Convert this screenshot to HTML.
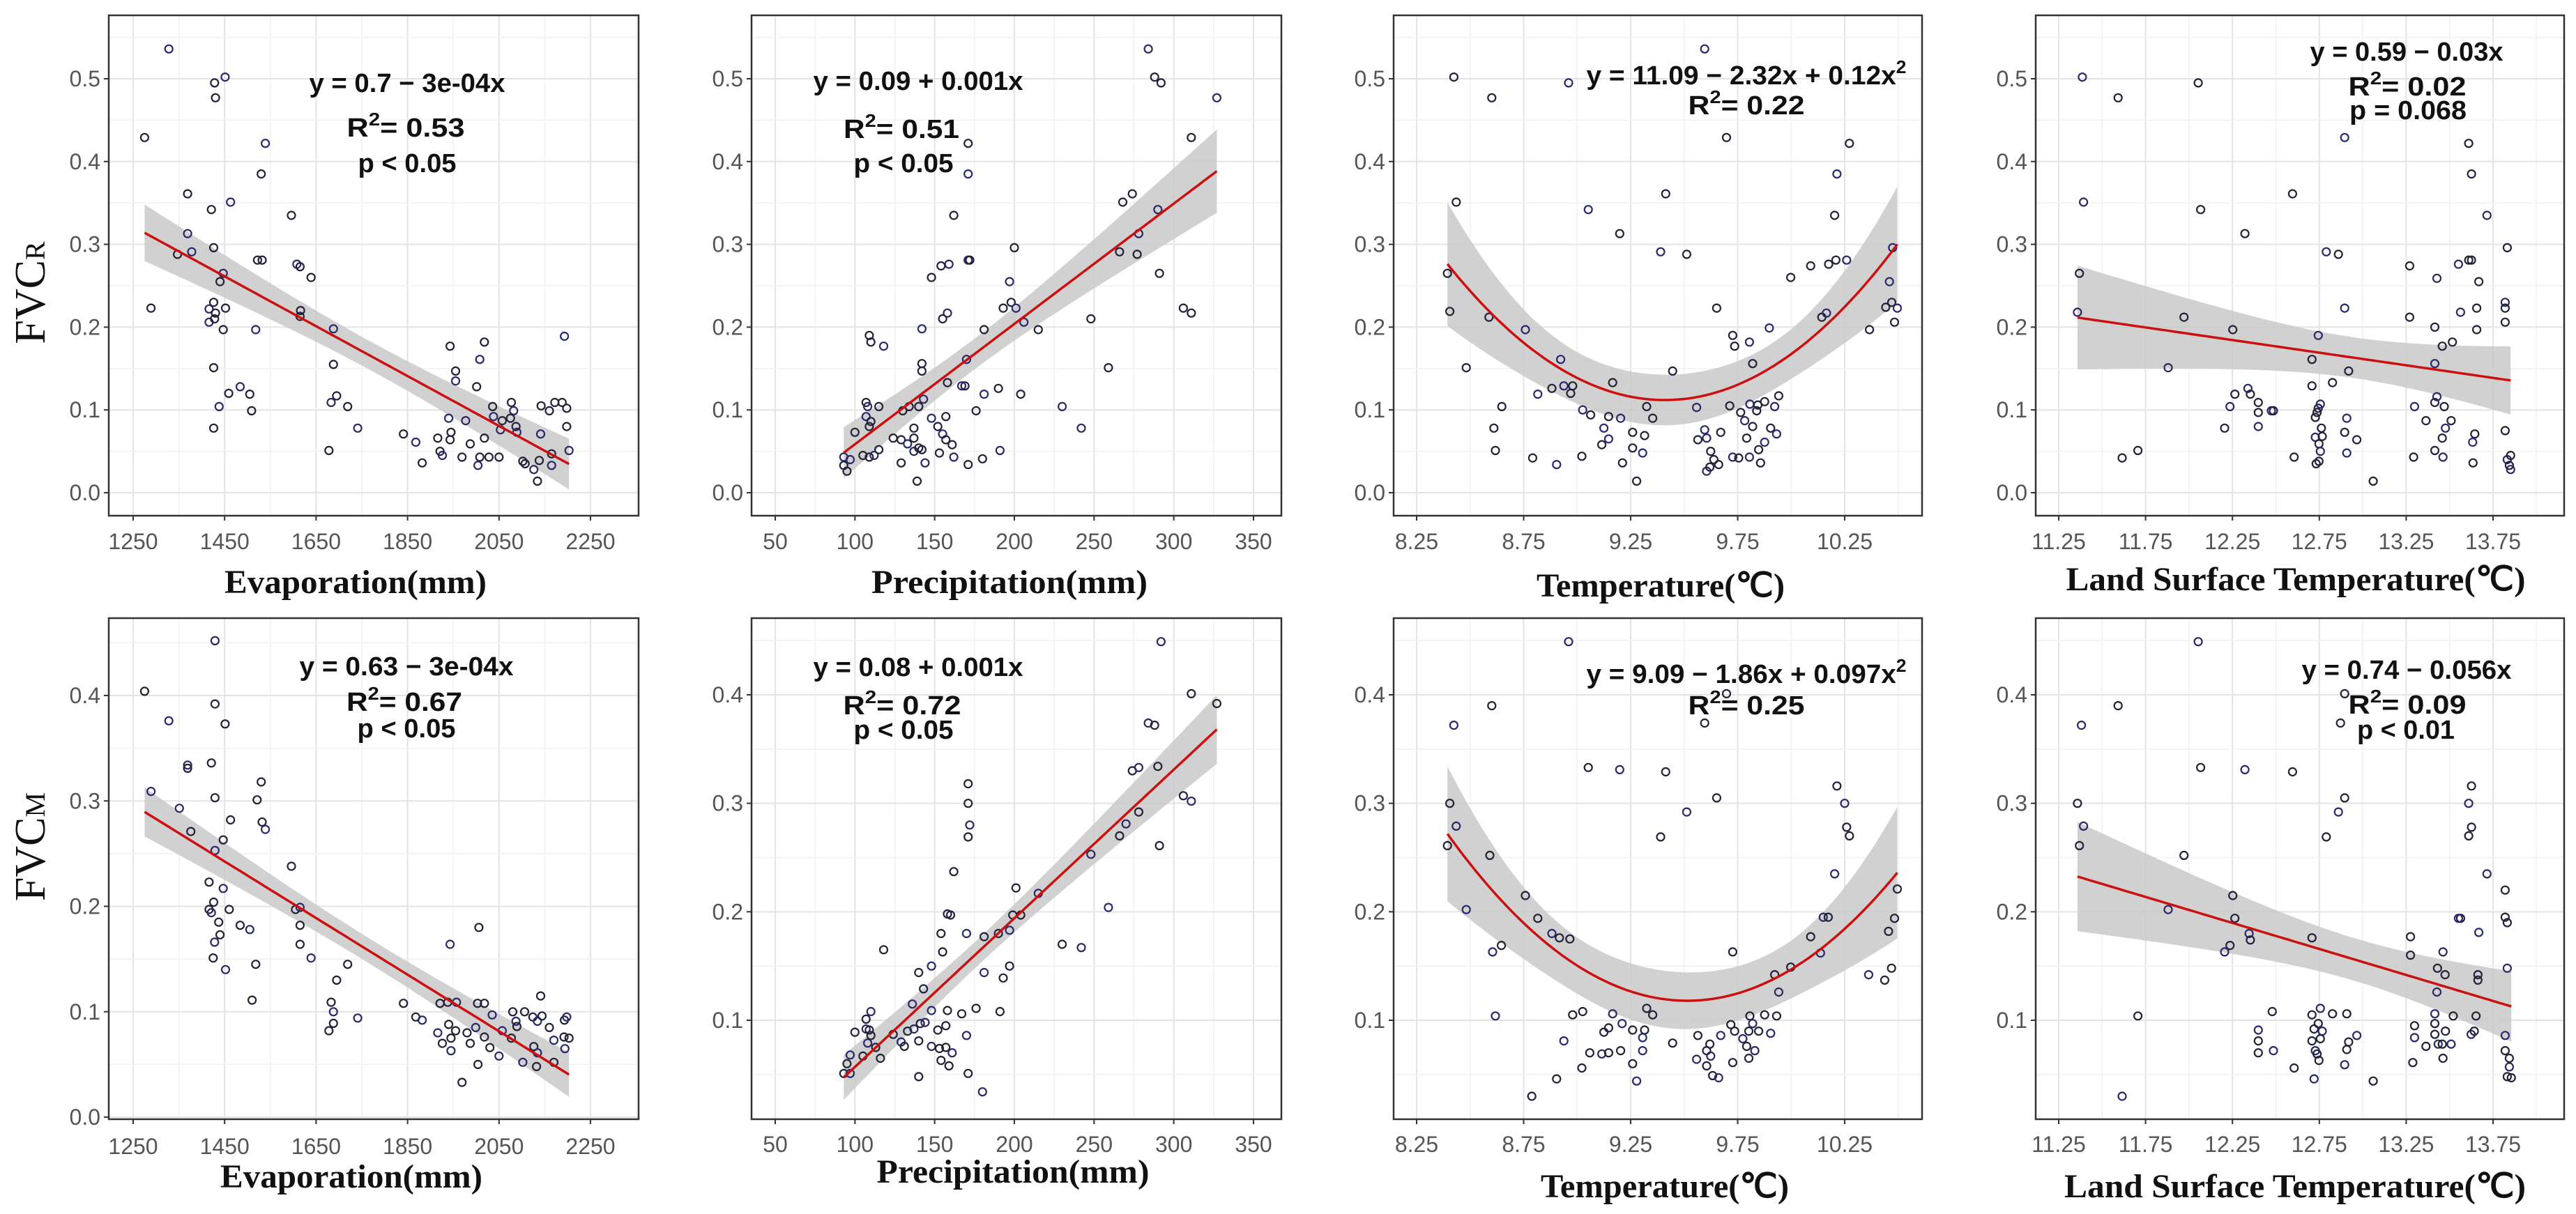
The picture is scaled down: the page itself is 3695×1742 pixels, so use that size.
<!DOCTYPE html>
<html><head><meta charset="utf-8">
<style>
html,body{margin:0;padding:0;background:#fff;}
svg{display:block;}
</style></head>
<body>
<svg id="fig" width="3695" height="1742" viewBox="0 0 3695 1742" xmlns="http://www.w3.org/2000/svg"></svg>
<script>
// ===== DATA =====
const evapTopX=[1328,1275,1289,1451,1428,1430,1539,1530,1369,1463,1421,1596,1369,1426,1347,1378,1522,1532,1608,1615,1639,1447,1440,1426,1416,1430,1452,1416,1428,1447,1518,1616,1615,1688,1688,1426,1484,1459,1505,1438,1509,1426,1683,1695,1719,1741,1678,1841,1868,1882,1916,1940,1943,1955,1955,1945,1921,1926,1943,1969,1977,1987,2001,2008,2018,2018,2004,2008,2036,2038,2028,2050,2053,2057,2077,2082,2075,2087,2089,2102,2107,2126,2134,2138,2141,2142,2160,2165,2172,2188,2193,2198,2198,2203,2165];
const evapTopY=[0.536,0.429,0.223,0.502,0.495,0.477,0.422,0.385,0.361,0.351,0.342,0.335,0.313,0.296,0.288,0.291,0.281,0.281,0.276,0.273,0.26,0.265,0.255,0.230,0.222,0.217,0.223,0.206,0.210,0.197,0.197,0.22,0.213,0.198,0.155,0.151,0.128,0.12,0.119,0.104,0.099,0.078,0.109,0.117,0.104,0.078,0.051,0.071,0.061,0.036,0.066,0.09,0.177,0.147,0.135,0.073,0.05,0.045,0.064,0.043,0.087,0.059,0.128,0.161,0.182,0.066,0.033,0.043,0.104,0.092,0.043,0.043,0.076,0.087,0.109,0.099,0.09,0.080,0.073,0.038,0.035,0.028,0.014,0.039,0.071,0.105,0.099,0.033,0.109,0.109,0.189,0.102,0.08,0.051,0.047];

const precTopX=[284,288,292,327,311,171,171,268,274,290,162,200,278,266,277,171,172,154,159,291,148,197,198,193,201,306,311,158,155,248,142,181,215,206,109,110,118,142,142,170,259,158,167,169,190,181,204,107,108,115,140,143,130,176,230,134,100,107,110,109,148,157,137,242,124,129,133,137,152,155,157,161,93,93,95,97,105,109,112,115,129,137,140,142,144,139,153,162,171,180,191];
const precTopY=[0.536,0.502,0.495,0.477,0.429,0.422,0.385,0.351,0.361,0.342,0.335,0.296,0.313,0.291,0.288,0.281,0.281,0.274,0.276,0.265,0.26,0.255,0.23,0.223,0.223,0.223,0.217,0.217,0.21,0.21,0.198,0.197,0.197,0.206,0.19,0.182,0.177,0.156,0.147,0.161,0.151,0.133,0.129,0.129,0.126,0.119,0.119,0.109,0.104,0.104,0.104,0.113,0.099,0.099,0.104,0.104,0.073,0.092,0.086,0.08,0.09,0.092,0.078,0.078,0.066,0.064,0.059,0.066,0.08,0.071,0.064,0.058,0.043,0.033,0.026,0.04,0.045,0.043,0.045,0.052,0.036,0.05,0.054,0.052,0.036,0.014,0.048,0.043,0.034,0.041,0.051];

const tempTopX=[9.596,8.424,8.601,8.960,9.698,10.272,10.214,8.435,9.414,9.052,10.203,9.199,9.39,9.512,10.209,10.259,10.175,10.091,10.474,9.998,8.394,10.459,8.405,8.588,8.758,9.652,10.143,10.165,10.442,10.47,10.496,10.483,10.366,9.898,9.727,9.736,9.805,9.82,8.482,8.923,9.446,9.166,8.938,8.979,8.882,8.816,8.97,8.648,9.026,9.063,9.147,9.203,9.325,9.353,9.558,9.713,9.764,9.807,9.844,9.876,9.923,9.942,9.839,9.783,9.82,8.611,9.125,9.259,9.315,9.596,9.671,9.904,9.932,8.618,8.792,8.904,9.022,9.115,9.147,9.212,9.259,9.306,9.278,9.564,9.605,9.624,9.639,9.605,9.62,9.661,9.727,9.755,9.792,9.805,9.848,9.857,9.876];
const tempTopY=[0.536,0.502,0.477,0.495,0.429,0.422,0.385,0.351,0.361,0.342,0.335,0.313,0.291,0.288,0.281,0.281,0.276,0.274,0.296,0.26,0.265,0.255,0.219,0.212,0.197,0.223,0.212,0.217,0.224,0.23,0.223,0.206,0.197,0.199,0.19,0.177,0.182,0.156,0.151,0.161,0.147,0.133,0.129,0.129,0.126,0.119,0.12,0.104,0.1,0.094,0.092,0.09,0.104,0.09,0.103,0.105,0.097,0.107,0.106,0.11,0.104,0.117,0.099,0.087,0.08,0.078,0.078,0.073,0.069,0.076,0.073,0.078,0.071,0.051,0.042,0.034,0.044,0.058,0.065,0.036,0.054,0.048,0.014,0.064,0.066,0.05,0.04,0.026,0.031,0.034,0.043,0.042,0.066,0.043,0.052,0.036,0.061];

const lstTopX=[11.386,11.592,12.053,12.896,13.61,13.626,11.393,12.596,12.067,13.715,12.322,13.832,12.79,12.86,13.27,13.551,13.61,13.626,13.427,13.668,11.369,11.358,11.971,12.252,12.896,13.27,13.415,13.563,13.656,13.656,13.82,13.82,13.82,12.744,13.458,13.516,11.88,12.708,12.919,13.415,12.826,12.708,12.339,12.353,12.264,12.236,12.399,12.399,12.474,12.486,12.205,12.399,12.727,12.744,12.756,12.737,12.762,12.727,12.767,12.748,12.756,12.732,12.748,12.908,12.896,12.966,12.908,12.605,13.06,13.298,13.364,13.415,13.427,13.469,13.509,13.476,13.458,13.415,13.462,13.293,13.645,13.633,13.635,13.82,13.832,13.851,13.844,13.851,11.615,11.706];
const lstTopY=[0.502,0.477,0.495,0.429,0.422,0.385,0.351,0.361,0.342,0.335,0.313,0.296,0.291,0.288,0.274,0.276,0.281,0.281,0.259,0.255,0.265,0.218,0.212,0.197,0.223,0.212,0.2,0.218,0.223,0.197,0.23,0.223,0.206,0.19,0.177,0.182,0.151,0.161,0.147,0.156,0.133,0.129,0.126,0.119,0.119,0.104,0.109,0.097,0.099,0.099,0.078,0.08,0.091,0.102,0.107,0.097,0.078,0.067,0.068,0.059,0.05,0.035,0.038,0.09,0.073,0.064,0.048,0.043,0.014,0.104,0.087,0.109,0.116,0.104,0.087,0.078,0.066,0.051,0.043,0.043,0.071,0.061,0.036,0.075,0.04,0.045,0.033,0.028,0.042,0.051];

const evapBotX=[1429,1275,1429,1328,1451,1421,1369,1369,1530,1289,1429,1521,1351,1463,1532,1539,1376,1447,1429,1596,1416,1447,1416,1426,1421,1460,1605,1615,1437,1484,1505,1615,1440,1428,1615,1425,1639,1518,1719,1452,1695,1510,1943,2006,1683,1688,1688,1678,1741,1841,1868,1882,1921,1938,1957,2003,2018,2035,1940,1955,1916,1926,1945,1945,1980,1987,1999,2018,2030,2050,2004,1969,2057,2077,2080,2087,2089,2106,2102,2124,2126,2134,2141,2144,2134,2132,2160,2170,2170,2193,2198,2192,2203,2194];
const evapBotY=[0.452,0.404,0.392,0.376,0.373,0.336,0.334,0.331,0.318,0.309,0.303,0.301,0.293,0.282,0.28,0.273,0.271,0.263,0.253,0.238,0.223,0.217,0.197,0.204,0.194,0.197,0.197,0.199,0.185,0.182,0.178,0.182,0.173,0.166,0.164,0.151,0.151,0.145,0.145,0.14,0.13,0.111,0.164,0.18,0.109,0.1,0.089,0.082,0.094,0.108,0.095,0.092,0.108,0.109,0.109,0.108,0.108,0.097,0.088,0.082,0.08,0.07,0.075,0.063,0.08,0.07,0.085,0.076,0.066,0.058,0.05,0.033,0.082,0.075,0.1,0.091,0.086,0.1,0.052,0.095,0.067,0.091,0.115,0.096,0.061,0.048,0.085,0.073,0.052,0.092,0.095,0.076,0.075,0.065];

const precBotX=[292,311,327,284,288,274,278,290,306,311,171,171,172,171,278,270,266,291,248,162,201,215,158,160,259,199,204,197,190,154,170,181,230,242,155,118,148,197,140,181,193,143,136,176,158,148,167,191,110,107,100,107,109,110,108,113,116,97,95,93,97,105,124,129,131,133,137,140,141,144,152,157,148,153,157,161,154,159,170,171,140,180];
const precBotY=[0.449,0.401,0.392,0.374,0.372,0.33,0.333,0.334,0.307,0.302,0.318,0.3,0.28,0.269,0.292,0.281,0.27,0.261,0.253,0.237,0.222,0.217,0.198,0.197,0.204,0.197,0.197,0.183,0.18,0.18,0.18,0.177,0.17,0.167,0.163,0.165,0.15,0.15,0.144,0.144,0.139,0.129,0.115,0.111,0.109,0.109,0.106,0.108,0.108,0.101,0.089,0.092,0.091,0.086,0.079,0.075,0.065,0.068,0.06,0.051,0.051,0.067,0.087,0.08,0.076,0.09,0.092,0.081,0.097,0.098,0.091,0.095,0.076,0.074,0.075,0.07,0.063,0.058,0.086,0.051,0.048,0.034];

const tempBotX=[8.96,9.698,8.601,8.424,9.596,9.052,9.199,9.414,9.652,9.512,9.39,10.214,10.25,10.259,10.272,10.203,10.496,8.405,8.435,8.394,8.592,8.482,8.758,8.816,8.882,8.917,8.966,8.605,8.646,9.727,10.15,10.173,10.091,10.137,9.998,9.923,9.942,10.483,10.455,10.362,10.437,10.469,8.618,8.979,9.026,9.166,9.325,9.353,9.21,9.259,9.315,9.306,9.147,9.125,8.938,9.446,9.564,9.671,9.718,9.736,9.774,9.802,9.807,9.82,9.848,9.876,9.904,9.932,9.792,9.83,9.802,9.059,9.115,9.147,9.203,9.306,9.259,9.022,9.278,8.904,8.788,9.558,9.605,9.62,9.624,9.605,9.633,9.661,9.727];
const tempBotY=[0.449,0.401,0.39,0.372,0.374,0.333,0.331,0.329,0.305,0.292,0.269,0.316,0.3,0.278,0.27,0.235,0.221,0.3,0.279,0.261,0.252,0.202,0.215,0.194,0.18,0.176,0.175,0.163,0.169,0.163,0.195,0.195,0.177,0.162,0.149,0.142,0.126,0.194,0.182,0.142,0.137,0.148,0.104,0.105,0.108,0.106,0.111,0.105,0.097,0.091,0.091,0.084,0.093,0.089,0.081,0.079,0.086,0.086,0.096,0.09,0.083,0.09,0.104,0.097,0.09,0.105,0.088,0.104,0.076,0.072,0.065,0.07,0.069,0.07,0.072,0.072,0.06,0.056,0.044,0.046,0.03,0.064,0.072,0.078,0.067,0.058,0.049,0.047,0.061];

const lstBotX=[12.053,12.896,11.592,11.381,12.872,12.067,12.322,12.596,12.896,12.86,12.79,13.626,13.61,13.626,13.61,13.715,13.82,11.358,11.393,11.369,11.971,11.88,12.252,12.264,12.346,12.353,12.236,12.205,12.708,13.563,13.551,13.82,13.832,13.668,13.275,13.275,13.462,13.43,13.474,13.832,13.663,13.663,13.427,11.706,12.479,12.399,12.399,12.399,12.486,12.605,12.708,12.756,12.744,12.72,12.767,12.708,12.756,12.727,12.737,12.748,12.72,12.826,12.908,12.966,12.919,12.908,12.896,13.06,13.298,13.298,13.288,13.364,13.415,13.415,13.415,13.434,13.476,13.458,13.509,13.462,13.521,13.624,13.642,13.652,13.82,13.82,13.844,13.844,13.832,13.855,11.615];
const lstBotY=[0.449,0.401,0.39,0.372,0.374,0.333,0.331,0.329,0.305,0.292,0.269,0.316,0.3,0.278,0.27,0.235,0.22,0.3,0.279,0.261,0.252,0.202,0.215,0.194,0.18,0.174,0.169,0.163,0.176,0.194,0.194,0.195,0.19,0.181,0.177,0.16,0.163,0.148,0.142,0.148,0.142,0.137,0.126,0.104,0.108,0.091,0.081,0.07,0.072,0.056,0.105,0.111,0.097,0.092,0.09,0.081,0.083,0.072,0.069,0.063,0.046,0.106,0.106,0.086,0.08,0.073,0.059,0.044,0.095,0.084,0.061,0.076,0.106,0.097,0.087,0.078,0.09,0.078,0.078,0.065,0.104,0.087,0.09,0.104,0.086,0.072,0.065,0.057,0.048,0.047,0.03];

// tick label arrays
const evapTicks=[1250,1450,1650,1850,2050,2250];
const precTicks=[50,100,150,200,250,300,350];
const tempTicks=[8.25,8.75,9.25,9.75,10.25];
const lstTicks=[11.25,11.75,12.25,12.75,13.25,13.75];
const tempTickLabels=["8.25","8.75","9.25","9.75","10.25"];
const lstTickLabels=["11.25","11.75","12.25","12.75","13.25","13.75"];
const yTicksTop=[0,0.1,0.2,0.3,0.4,0.5];
const yTicksBotFirst=[0,0.1,0.2,0.3,0.4];
const yTicksBot=[0.1,0.2,0.3,0.4];

// ===== LAYOUT =====
const NS="http://www.w3.org/2000/svg";
const svg=document.getElementById('fig');
function mk(tag,attrs,parent){const e=document.createElementNS(NS,tag);for(const k in attrs)e.setAttribute(k,attrs[k]);(parent||svg).appendChild(e);return e;}

const cols=[
 {f:[156,916],xd:[1250,2250],xp:[191,847],ticks:evapTicks,labels:evapTicks.map(String),step:200,title:"Evaporation(mm)"},
 {f:[1078,1838],xd:[50,350],xp:[1112,1798],ticks:precTicks,labels:precTicks.map(String),step:50,title:"Precipitation(mm)"},
 {f:[1999,2757],xd:[8.25,10.25],xp:[2032,2646],ticks:tempTicks,labels:tempTickLabels,step:0.5,title:"Temperature(\u2103)"},
 {f:[2920,3678],xd:[11.25,13.75],xp:[2953,3576],ticks:lstTicks,labels:lstTickLabels,step:0.5,title:"Land Surface Temperature(\u2103)"}
];
const panels=[
 {r:0,c:0,X:evapTopX,Y:evapTopY,deg:1,fy:[22,740],yd:[0,0.5],yp:[707,113],yt:yTicksTop,tickY:777,
  title:{cx:510,b:851,w:376},eq:[["y = 0.7 \u2212 3e-04x",584,132,281],["R|2|= 0.53",582,196,169],["p < 0.05",584,247,141]]},
 {r:0,c:1,X:precTopX,Y:precTopY,deg:1,fy:[22,740],yd:[0,0.5],yp:[707,113],yt:yTicksTop,tickY:777,
  title:{cx:1448,b:851,w:396},eq:[["y = 0.09 + 0.001x",1317,129,301],["R|2|= 0.51",1293,198,166],["p < 0.05",1296,247,143]]},
 {r:0,c:2,X:tempTopX,Y:tempTopY,deg:2,fy:[22,740],yd:[0,0.5],yp:[707,113],yt:yTicksTop,tickY:777,
  title:{cx:2382,b:856,w:356},eq:[["y = 11.09 \u2212 2.32x + 0.12x|2|",2505,121,459],["R|2|= 0.22",2505,164,167]]},
 {r:0,c:3,X:lstTopX,Y:lstTopY,deg:1,fy:[22,740],yd:[0,0.5],yp:[707,113],yt:yTicksTop,tickY:777,
  title:{cx:3293,b:847,w:659},eq:[["y = 0.59 \u2212 0.03x",3452,87,277],["R|2|= 0.02",3453,137,169],["p = 0.068",3454,171,168]]},
 {r:1,c:0,X:evapBotX,Y:evapBotY,deg:1,fy:[887,1606],yd:[0,0.4],yp:[1603,998],yt:yTicksBotFirst,tickY:1645,
  title:{cx:504,b:1704,w:376},eq:[["y = 0.63 \u2212 3e-04x",583,969,307],["R|2|= 0.67",580,1020,166],["p < 0.05",583,1058,141]]},
 {r:1,c:1,X:precBotX,Y:precBotY,deg:1,fy:[887,1606],yd:[0.1,0.4],yp:[1464,997],yt:yTicksBot,tickY:1642,
  title:{cx:1453,b:1697,w:391},eq:[["y = 0.08 + 0.001x",1317,970,301],["R|2|= 0.72",1294,1025,169],["p < 0.05",1296,1060,143]]},
 {r:1,c:2,X:tempBotX,Y:tempBotY,deg:2,fy:[887,1606],yd:[0.1,0.4],yp:[1464,997],yt:yTicksBot,tickY:1642,
  title:{cx:2388,b:1718,w:356},eq:[["y = 9.09 \u2212 1.86x + 0.097x|2|",2505,980,459],["R|2|= 0.25",2505,1025,167]]},
 {r:1,c:3,X:lstBotX,Y:lstBotY,deg:1,fy:[887,1606],yd:[0.1,0.4],yp:[1464,997],yt:yTicksBot,tickY:1642,
  title:{cx:3292,b:1718,w:662},eq:[["y = 0.74 \u2212 0.056x",3452,974,301],["R|2|= 0.09",3453,1024,169],["p < 0.01",3451,1060,140]]}
];

function fmtY(v){return v.toFixed(1);}

// fit helpers
function solve3(A){ // inverse of 3x3
  const [a,b,c]=A[0],[d,e,f]=A[1],[g,h,i]=A[2];
  const det=a*(e*i-f*h)-b*(d*i-f*g)+c*(d*h-e*g);
  return [[(e*i-f*h)/det,(c*h-b*i)/det,(b*f-c*e)/det],
          [(f*g-d*i)/det,(a*i-c*g)/det,(c*d-a*f)/det],
          [(d*h-e*g)/det,(b*g-a*h)/det,(a*e-b*d)/det]];
}
function fit(X,Y,deg){
  const n=Math.min(X.length,Y.length);
  const xm=X.slice(0,n).reduce((s,v)=>s+v,0)/n;
  const k=deg+1;
  const XtX=[[0,0,0],[0,0,0],[0,0,0]],XtY=[0,0,0];
  for(let i=0;i<n;i++){const u=X[i]-xm;const r=[1,u,u*u];
    for(let a=0;a<k;a++){XtY[a]+=r[a]*Y[i];for(let b=0;b<k;b++)XtX[a][b]+=r[a]*r[b];}}
  if(k===2){XtX[2][2]=1;}
  const M=solve3(XtX);
  const beta=[0,0,0];
  for(let a=0;a<k;a++)for(let b=0;b<k;b++)beta[a]+=M[a][b]*XtY[b];
  if(k===2)beta[2]=0;
  let ss=0;for(let i=0;i<n;i++){const u=X[i]-xm;const p=beta[0]+beta[1]*u+beta[2]*u*u;ss+=(Y[i]-p)**2;}
  const s=Math.sqrt(ss/(n-k));
  return {pred:x=>{const u=x-xm;return beta[0]+beta[1]*u+beta[2]*u*u;},
    se:x=>{const u=x-xm;const v=[1,u,k===3?u*u:0];let q=0;for(let a=0;a<3;a++)for(let b=0;b<3;b++)q+=v[a]*M[a][b]*v[b];
      if(k===2){q-=M[2][2]*0;} return s*Math.sqrt(Math.max(q,0));},
    min:Math.min(...X.slice(0,n)),max:Math.max(...X.slice(0,n))};
}

panels.forEach((p,pi)=>{
  const col=cols[p.c];
  const g=mk('g',{});
  
  
  const L=col.f[0],R=col.f[1],T=p.fy[0],B=p.fy[1];
  const sx=v=>col.xp[0]+(v-col.xd[0])*(col.xp[1]-col.xp[0])/(col.xd[1]-col.xd[0]);
  const sy=v=>p.yp[0]+(v-p.yd[0])*(p.yp[1]-p.yd[0]===0?0:(p.yp[1]-p.yp[0])/(p.yd[1]-p.yd[0]));
  const bg=mk('rect',{x:L,y:T,width:R-L,height:B-T,fill:'#fff'},g);
  
  // gridlines
  const gg=mk('g',{},g);
  const xstep=col.step;
  for(let v=col.xd[0]-xstep*2;v<=col.xd[1]+xstep*2+1e-9;v+=xstep/2){
    const x=sx(v);if(x<=L+1||x>=R-1)continue;
    const major=Math.abs(((v-col.xd[0])/xstep)-Math.round((v-col.xd[0])/xstep))<1e-6;
    mk('line',{x1:x,x2:x,y1:T,y2:B,stroke:major?'#e3e3e3':'#f1f1f1','stroke-width':major?2:1.5},gg);
  }
  const ystep=0.1;
  for(let v=-0.2;v<=0.8;v+=0.05){
    const y=sy(v);if(y<=T+1||y>=B-1)continue;
    const major=Math.abs(v*10-Math.round(v*10))<1e-6;
    mk('line',{x1:L,x2:R,y1:y,y2:y,stroke:major?'#e3e3e3':'#f1f1f1','stroke-width':major?2:1.5},gg);
  }
  // fit band + line
  const f=fit(p.X,p.Y,p.deg);
  const N=80,up=[],lo=[],ln=[];
  for(let i=0;i<=N;i++){const x=f.min+(f.max-f.min)*i/N;const yv=f.pred(x),e=1.98*f.se(x);
    up.push(sx(x).toFixed(1)+','+sy(yv+e).toFixed(1));lo.push(sx(x).toFixed(1)+','+sy(yv-e).toFixed(1));ln.push(sx(x).toFixed(1)+','+sy(yv).toFixed(1));}
  const band=mk('polygon',{points:up.concat(lo.reverse()).join(' '),fill:'#c9c9c9','fill-opacity':0.85},g);
  
  // points
  const pg=mk('g',{},g);
  const n=Math.min(p.X.length,p.Y.length);
  for(let i=0;i<n;i++){
    const c=mk('circle',{cx:sx(p.X[i]).toFixed(1),cy:sy(p.Y[i]).toFixed(1),r:5.5,fill:'none',stroke:i%3===0?'#2a2a6a':'#22223a','stroke-width':2.2},pg);
    
    
  }
  const fl=mk('polyline',{points:ln.join(' '),fill:'none',stroke:'#cc1010','stroke-width':3.5},g);
  
  // frame
  const fr=mk('rect',{x:L,y:T,width:R-L,height:B-T,fill:'none',stroke:'#333','stroke-width':2.5},g);
  
  // x ticks
  col.ticks.forEach((v,i)=>{const x=sx(v);
    mk('line',{x1:x,x2:x,y1:B,y2:B+7,stroke:'#333','stroke-width':2},g);
    const t=mk('text',{x:x,y:p.tickY+11,'text-anchor':'middle','font-family':'"Liberation Sans",sans-serif','font-size':32,fill:'#555'},g);
    t.textContent=col.labels[i];
    
  });
  p.yt.forEach(v=>{const y=sy(v);
    mk('line',{x1:L-7,x2:L,y1:y,y2:y,stroke:'#333','stroke-width':2},g);
    const t=mk('text',{x:L-12,y:y+11,'text-anchor':'end','font-family':'"Liberation Sans",sans-serif','font-size':32,fill:'#555'},g);
    t.textContent=fmtY(v);
    
  });
  // axis title
  const at=mk('text',{x:p.title.cx,y:p.title.b,'text-anchor':'middle','font-family':'"Liberation Serif",serif','font-size':48,'font-weight':'bold',fill:'#111',textLength:p.title.w,lengthAdjust:'spacingAndGlyphs'},g);
  at.textContent=col.title;
  
  // equation annotations
  p.eq.forEach(e=>{
    const t=mk('text',{x:e[1],y:e[2],'text-anchor':'middle','font-family':'"Liberation Sans",sans-serif','font-size':38,'font-weight':'bold',fill:'#111',textLength:e[3],lengthAdjust:'spacingAndGlyphs'},g);
    
    const parts=e[0].split('|');
    parts.forEach((s,j)=>{
      const ts=mk('tspan',{},t);
      if(j%2===1){ts.setAttribute('dy',-16);ts.setAttribute('font-size',26);}
      else if(j>0){ts.setAttribute('dy',16);}
      ts.textContent=s;
    });
  });
});

// row labels
function rowLabel(cy,sub,name){
  const t=mk('text',{x:0,y:0,transform:`translate(64,${cy}) rotate(-90)`,'text-anchor':'middle','font-family':'"Liberation Serif",serif','font-size':62,fill:'#111'});
  
  const a=mk('tspan',{},t);a.textContent='FVC';
  const b=mk('tspan',{'font-size':40},t);b.textContent=sub;
}
rowLabel(420,'R','y-axis-title-fvcr');
rowLabel(1215,'M','y-axis-title-fvcm');
</script>
</body></html>
